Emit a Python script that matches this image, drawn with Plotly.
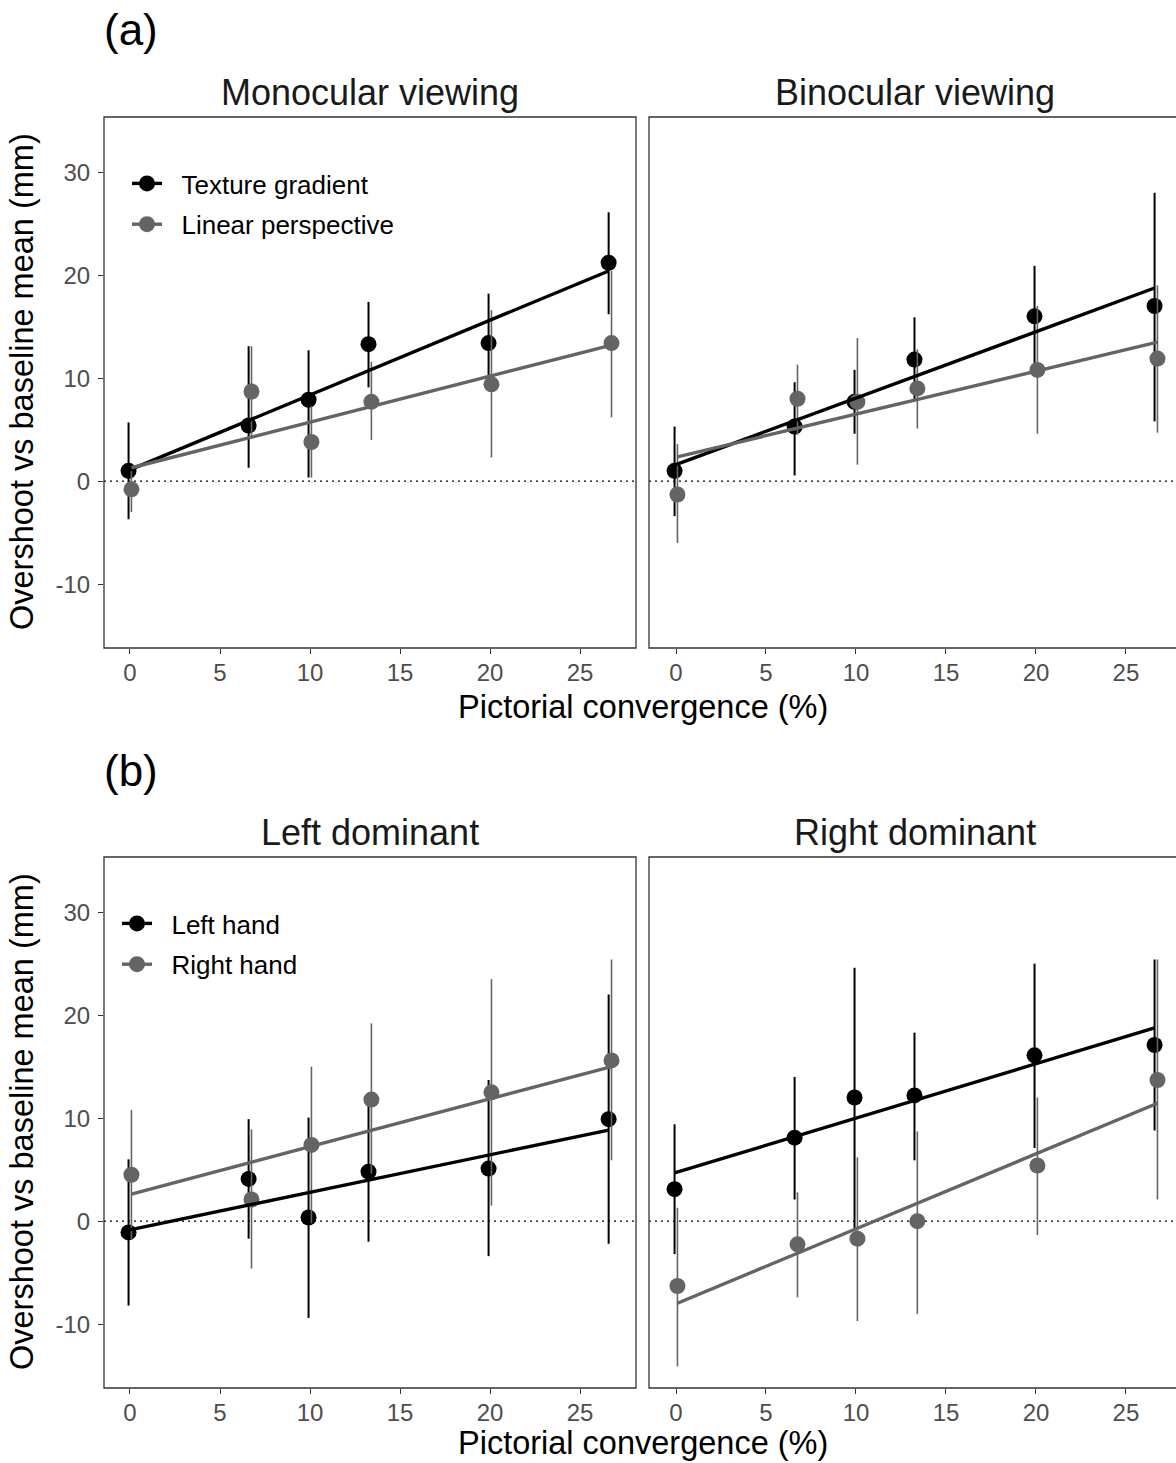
import plotly.graph_objects as go

W, H = 1176, 1463

# ---------------- data ----------------
conv = [0, 6.67, 10, 13.33, 20, 26.67]
x_ticks = [0, 5, 10, 15, 20, 25]
y_ticks = [-10, 0, 10, 20, 30]
y_tick_labels = ["-10", "0", "10", "20", "30"]

# (a) Monocular viewing
mono_tex_mean = [1.0, 5.4, 7.9, 13.3, 13.4, 21.2]
mono_tex_lo = [-3.7, 1.3, 0.35, 9.1, 8.8, 16.2]
mono_tex_hi = [5.7, 13.1, 12.7, 17.4, 18.2, 26.1]
mono_lin_mean = [-0.8, 8.7, 3.8, 7.7, 9.4, 13.4]
mono_lin_lo = [-3.0, 4.3, 0.35, 4.0, 2.3, 6.2]
mono_lin_hi = [1.3, 13.1, 7.3, 11.6, 16.6, 20.4]
mono_tex_fit = [1.05, 20.4]
mono_lin_fit = [1.3, 13.2]

# (a) Binocular viewing
bino_tex_mean = [1.0, 5.3, 7.7, 11.8, 16.0, 17.0]
bino_tex_lo = [-3.4, 0.55, 4.6, 7.9, 11.0, 5.8]
bino_tex_hi = [5.3, 9.6, 10.8, 15.9, 20.9, 28.0]
bino_lin_mean = [-1.3, 8.0, 7.7, 9.0, 10.8, 11.9]
bino_lin_lo = [-6.0, 4.5, 1.6, 5.1, 4.6, 4.7]
bino_lin_hi = [3.6, 11.3, 13.9, 12.8, 17.0, 19.0]
bino_tex_fit = [1.56, 18.75]
bino_lin_fit = [2.36, 13.5]

# (b) Left dominant
ldom_lh_mean = [-1.1, 4.1, 0.35, 4.8, 5.1, 9.9]
ldom_lh_lo = [-8.2, -1.7, -9.4, -2.0, -3.4, -2.2]
ldom_lh_hi = [6.0, 9.9, 10.05, 11.4, 13.7, 22.0]
ldom_rh_mean = [4.5, 2.1, 7.4, 11.8, 12.5, 15.6]
ldom_rh_lo = [-1.8, -4.6, -0.2, 4.6, 1.5, 5.9]
ldom_rh_hi = [10.8, 8.9, 15.0, 19.2, 23.5, 25.4]
ldom_lh_fit = [-0.87, 8.84]
ldom_rh_fit = [2.63, 15.0]

# (b) Right dominant
rdom_lh_mean = [3.1, 8.1, 12.0, 12.2, 16.1, 17.1]
rdom_lh_lo = [-3.2, 2.1, -0.7, 5.9, 7.1, 8.8]
rdom_lh_hi = [9.4, 14.0, 24.6, 18.3, 25.0, 25.4]
rdom_rh_mean = [-6.3, -2.25, -1.7, 0.0, 5.4, 13.7]
rdom_rh_lo = [-14.1, -7.4, -9.7, -9.0, -1.35, 2.1]
rdom_rh_hi = [1.3, 2.8, 6.2, 8.7, 12.0, 25.4]
rdom_lh_fit = [4.68, 18.75]
rdom_rh_fit = [-7.97, 11.44]

panel_titles = ["Monocular viewing", "Binocular viewing", "Left dominant", "Right dominant"]
legend_a = ["Texture gradient", "Linear perspective"]
legend_b = ["Left hand", "Right hand"]
panel_labels = ["(a)", "(b)"]
x_title = "Pictorial convergence (%)"
y_title = "Overshoot vs baseline mean (mm)"

# ---------------- style ----------------
FONT = "Liberation Sans, Arial, sans-serif"
BLACK = "#000000"
GREY = "#646464"
AXC = "#333333"
TICKC = "#4D4D4D"
DODGE = 0.08
PAD = "\u00a0\u00a0"  # gap between legend key and label


def px(xp):
    return xp / W


def py(yp):
    return 1 - yp / H


fig = go.Figure()

panels = [
    ("x", "y", [(mono_tex_mean, mono_tex_lo, mono_tex_hi, mono_tex_fit),
                (mono_lin_mean, mono_lin_lo, mono_lin_hi, mono_lin_fit)]),
    ("x2", "y2", [(bino_tex_mean, bino_tex_lo, bino_tex_hi, bino_tex_fit),
                  (bino_lin_mean, bino_lin_lo, bino_lin_hi, bino_lin_fit)]),
    ("x3", "y3", [(ldom_lh_mean, ldom_lh_lo, ldom_lh_hi, ldom_lh_fit),
                  (ldom_rh_mean, ldom_rh_lo, ldom_rh_hi, ldom_rh_fit)]),
    ("x4", "y4", [(rdom_lh_mean, rdom_lh_lo, rdom_lh_hi, rdom_lh_fit),
                  (rdom_rh_mean, rdom_rh_lo, rdom_rh_hi, rdom_rh_fit)]),
]

colors = [BLACK, GREY]
offsets = [-DODGE, DODGE]
ebw = [2.0, 1.6]
MS = 16
LW = 3.4

for xa, ya, series in panels:
    # error bars + points
    for k, (mean, lo, hi, fit) in enumerate(series):
        xs = [v + offsets[k] for v in conv]
        fig.add_trace(go.Scatter(
            x=xs, y=mean, mode="markers", xaxis=xa, yaxis=ya, showlegend=False,
            marker=dict(size=MS, color=colors[k]),
            error_y=dict(type="data", symmetric=False,
                         array=[h - m for h, m in zip(hi, mean)],
                         arrayminus=[m - l for m, l in zip(mean, lo)],
                         color=colors[k], thickness=ebw[k], width=0),
            hoverinfo="skip"))
    # fit lines
    for k, (mean, lo, hi, fit) in enumerate(series):
        fig.add_trace(go.Scatter(
            x=[conv[0] + offsets[k], conv[-1] + offsets[k]], y=fit, mode="lines",
            xaxis=xa, yaxis=ya, showlegend=False,
            line=dict(color=colors[k], width=LW), hoverinfo="skip"))

# legend-only traces
for k, name in enumerate(legend_a):
    fig.add_trace(go.Scatter(x=[None], y=[None], mode="lines+markers", name=PAD + name,
                             xaxis="x", yaxis="y", legend="legend", legendgroup="a%d" % k,
                             line=dict(color=colors[k], width=LW),
                             marker=dict(size=MS, color=colors[k])))
for k, name in enumerate(legend_b):
    fig.add_trace(go.Scatter(x=[None], y=[None], mode="lines+markers", name=PAD + name,
                             xaxis="x3", yaxis="y3", legend="legend2", legendgroup="b%d" % k,
                             line=dict(color=colors[k], width=LW),
                             marker=dict(size=MS, color=colors[k])))

# ---------------- axes ----------------
left_dom = [px(104), px(636)]
right_dom = [px(649), 1.0]
top_dom = [py(648), py(117)]
bot_dom = [py(1388), py(857)]
xr_left = [-1.444, 28.11]
xr_right = [-1.5, 27.78]
yr = [-16.2, 35.35]

common_x = dict(tickvals=x_ticks, ticks="outside", ticklen=5, tickwidth=1.2, tickcolor=AXC,
                tickfont=dict(size=24, color=TICKC, family=FONT), showgrid=False,
                zeroline=False, showline=False, ticklabelstandoff=-2)
common_y = dict(tickvals=y_ticks, ticktext=y_tick_labels, ticks="outside", ticklen=5,
                tickwidth=1.2, tickcolor=AXC,
                tickfont=dict(size=24, color=TICKC, family=FONT), showgrid=False,
                zeroline=False, showline=False, range=yr, ticklabelstandoff=3)

fig.update_layout(
    xaxis=dict(domain=left_dom, anchor="y", range=xr_left, **common_x),
    xaxis2=dict(domain=right_dom, anchor="y2", range=xr_right, **common_x),
    xaxis3=dict(domain=left_dom, anchor="y3", range=xr_left, **common_x),
    xaxis4=dict(domain=right_dom, anchor="y4", range=xr_right, **common_x),
    yaxis=dict(domain=top_dom, anchor="x", **common_y),
    yaxis2=dict(domain=top_dom, anchor="x2", **{**common_y, "showticklabels": False, "ticks": ""}),
    yaxis3=dict(domain=bot_dom, anchor="x3", **common_y),
    yaxis4=dict(domain=bot_dom, anchor="x4", **{**common_y, "showticklabels": False, "ticks": ""}),
)

# panel borders and zero reference lines
shapes = []
for xa, ya, x1 in [("x", "y", 1.0), ("x2", "y2", 1.02), ("x3", "y3", 1.0), ("x4", "y4", 1.02)]:
    shapes.append(dict(type="rect", xref=xa + " domain", yref=ya + " domain",
                       x0=0, x1=x1, y0=0, y1=1, line=dict(color=AXC, width=1.3),
                       fillcolor="rgba(0,0,0,0)", layer="above"))
    shapes.append(dict(type="line", xref=xa + " domain", yref=ya, x0=0, x1=1, y0=0, y1=0,
                       line=dict(color=BLACK, width=1.4, dash="2px,4px"), layer="below"))

annotations = []
# panel titles
for t, (cx, cy) in zip(panel_titles, [(370, 92), (915, 92), (370, 832), (915, 832)]):
    annotations.append(dict(text=t, x=px(cx), y=py(cy), xref="paper", yref="paper",
                            xanchor="center", yanchor="middle", showarrow=False,
                            font=dict(size=36, color="#1A1A1A", family=FONT)))
# panel labels
for t, cy in zip(panel_labels, [30, 770]):
    annotations.append(dict(text=t, x=px(102), y=py(cy), xref="paper", yref="paper",
                            xanchor="left", yanchor="middle", showarrow=False,
                            font=dict(size=44, color=BLACK, family=FONT)))
# axis titles
for cy in [707, 1443]:
    annotations.append(dict(text=x_title, x=px(643), y=py(cy), xref="paper", yref="paper",
                            xanchor="center", yanchor="middle", showarrow=False,
                            font=dict(size=32.5, color=BLACK, family=FONT)))
for cy in [382, 1122]:
    annotations.append(dict(text=y_title, x=px(22), y=py(cy), xref="paper", yref="paper",
                            xanchor="center", yanchor="middle", showarrow=False, textangle=-90,
                            font=dict(size=32.5, color=BLACK, family=FONT)))

legend_style = dict(bgcolor="rgba(0,0,0,0)", borderwidth=0, font=dict(size=26, color=BLACK, family=FONT),
                    itemwidth=30, traceorder="grouped", tracegroupgap=4,
                    xanchor="left", yanchor="top", itemclick=False, itemdoubleclick=False)

fig.update_layout(
    width=W, height=H, margin=dict(l=0, r=0, t=0, b=0),
    paper_bgcolor="white", plot_bgcolor="white",
    font=dict(family=FONT),
    shapes=shapes, annotations=annotations,
    legend=dict(x=px(127), y=py(160), **legend_style),
    legend2=dict(x=px(117), y=py(900), **legend_style),
)

fig.write_html("out.html")
